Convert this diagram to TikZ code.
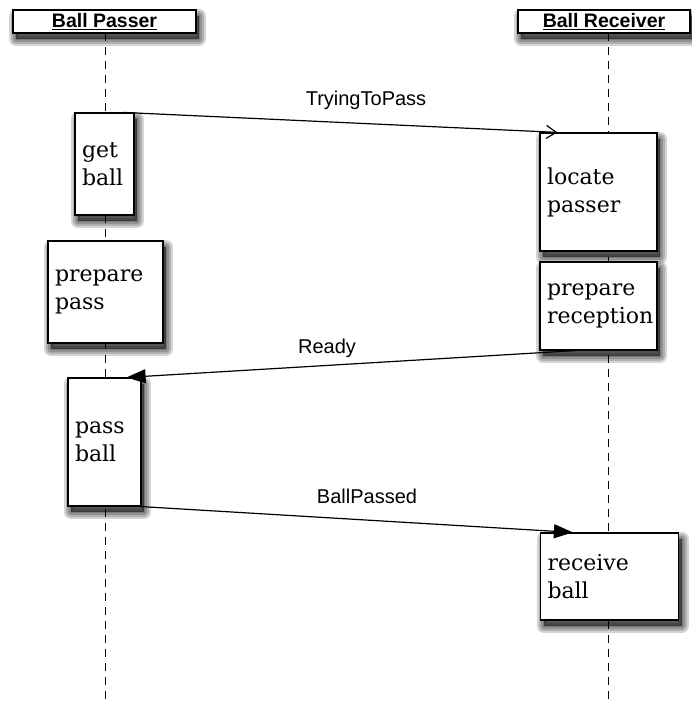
\documentclass[tikz,border=0pt]{standalone}
\usepackage{fontspec}
\setmainfont{DejaVu Serif}
\newfontfamily\headfont{Liberation Sans}
\usetikzlibrary{arrows.meta,calc}
\begin{document}
\begin{tikzpicture}[x=1pt,y=-1pt,
  % soft shadow built from stacked translucent layers
  shadow layer/.style={preaction={fill=black,draw=black,line width=#1,line join=round,
      opacity=0.17,transform canvas={xshift=3pt,yshift=-6pt}}},
  shade box/.style={draw=black,line width=1.2pt,fill=white,
    shadow layer=14pt,shadow layer=10pt,shadow layer=6pt,shadow layer=2pt},
  actor/.style={shade box,minimum height=23pt,inner sep=0pt,
    font=\headfont\bfseries\fontsize{19.5}{20}\selectfont},
  activity/.style={shade box,align=left,inner xsep=7pt,inner ysep=0pt,
    font=\fontsize{22}{28}\selectfont},
  lifeline/.style={line width=1pt,dash pattern=on 8pt off 6pt},
  msg/.style={line width=1.2pt},
  msglabel/.style={font=\headfont\fontsize{20}{20}\selectfont},
  filled tip/.style={-{Triangle[length=19pt,width=14pt]}},
]
\useasboundingbox (0,0) rectangle (691,704);

% actors
\node[actor,minimum width=183pt] (passer) at (104.5,21.5) {\underline{Ball Passer}};
\node[actor,minimum width=172pt] (receiver) at (604,21.5) {\underline{Ball Receiver}};

% lifelines
\coordinate (passerEnd) at (105,704);
\coordinate (receiverEnd) at (608,704);
\draw[lifeline] (105,33) -- (passerEnd);
\draw[lifeline] (608,33) -- (receiverEnd);

% activities of the passer
\node[activity,text width=45pt,minimum height=102pt] (getball) at (104.5,164) {get\\ball};
\node[activity,text width=101pt,minimum height=102pt] (preparepass) at (105.5,292) {prepare\\pass};
\node[activity,text width=59pt,minimum height=128pt] (passball) at (104.5,442) {pass\\ball};

% activities of the receiver
\node[activity,text width=103pt,minimum height=118pt] (locate) at (598.5,192) {locate\\passer};
\node[activity,text width=103pt,minimum height=88pt] (prepreception) at (598.5,306) {prepare\\reception};
\node[activity,text width=124pt,minimum height=87pt] (receiveball) at (609.5,576.5) {receive\\ball};

% messages
\coordinate (tryStart) at ($(getball.north east)+(-12,0)$);
\coordinate (tryEnd) at ($(locate.north west)+(18,0)$);
\draw[msg,-{Straight Barb[length=10pt,width=13pt]}] (tryStart) -- (tryEnd);
\node[msglabel] (trylabel) at (366,100) {TryingToPass};

\coordinate (readyStart) at ($(prepreception.south west)+(36,0)$);
\coordinate (readyEnd) at ($(passball.north east)+(-15,0)$);
\draw[msg,filled tip] (readyStart) -- (readyEnd);
\node[msglabel] (readylabel) at (327,348) {Ready};

\coordinate (passedEnd) at ($(receiveball.north west)+(33,0)$);
\draw[msg,filled tip] (passball.south east) -- (passedEnd);
\node[msglabel] (passedlabel) at (367,496) {BallPassed};
\end{tikzpicture}
\end{document}
